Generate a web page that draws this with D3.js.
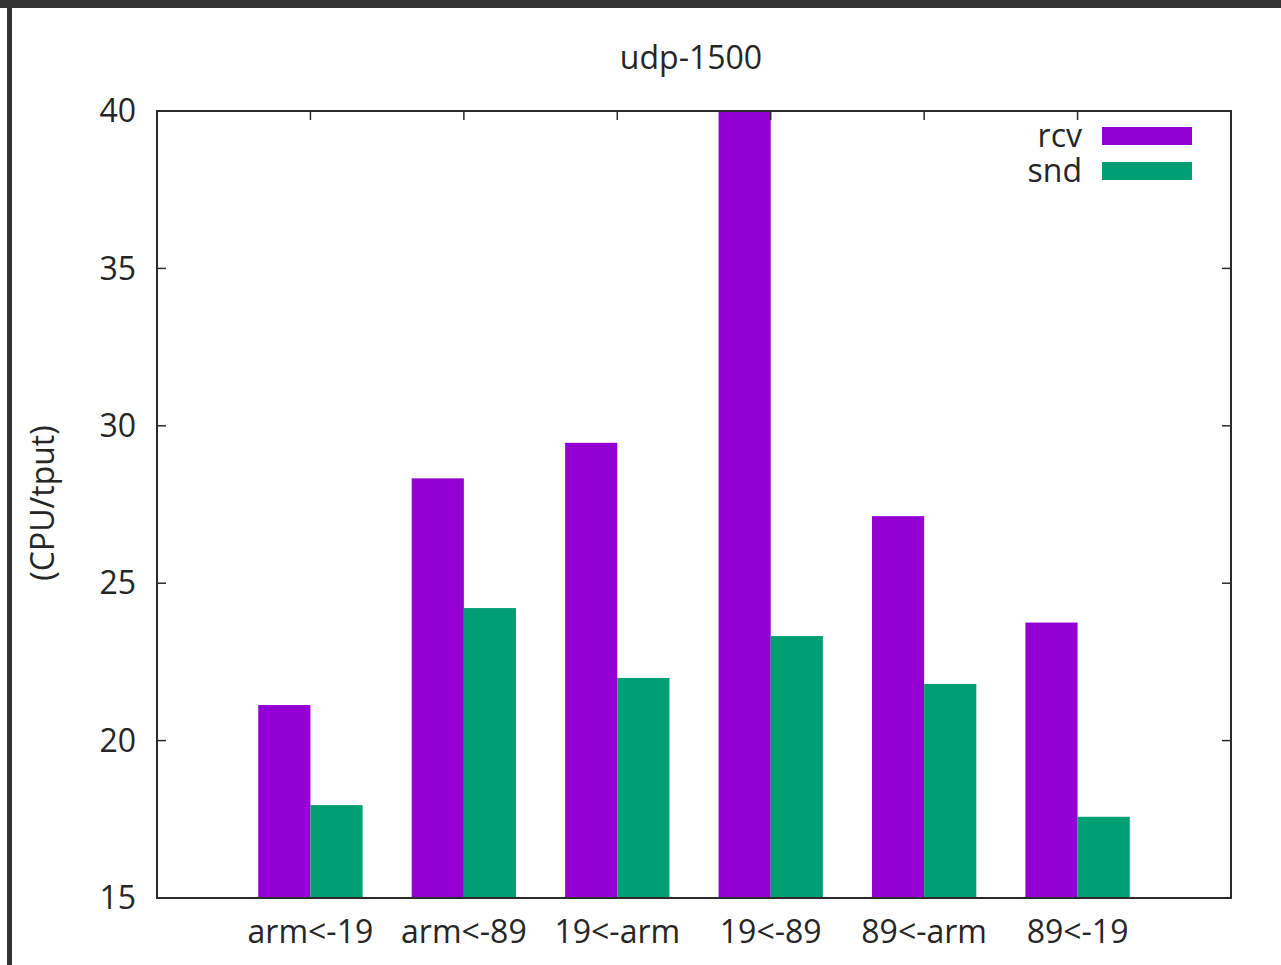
<!DOCTYPE html>
<html>
<head>
<meta charset="utf-8">
<script src="https://cdn.jsdelivr.net/npm/d3@7"></script>
<style>
  html, body { margin: 0; padding: 0; background: #fff; }
  svg { display: block; }
  text { font-family: "Open Sans", "Noto Sans", sans-serif; fill: #262626; }
</style>
</head>
<body>
<script>
// Histogram data: CPU per throughput, udp-1500
const categories = ["arm<-19", "arm<-89", "19<-arm", "19<-89", "89<-arm", "89<-19"];
const rcvValues = [21.13, 28.33, 29.46, 42.5, 27.13, 23.75];
const sndValues = [17.95, 24.21, 21.99, 23.32, 21.80, 17.58];
const seriesNames = ["rcv", "snd"];
const seriesColors = ["#9400d3", "#009e73"];
const yTicks = [15, 20, 25, 30, 35, 40];
const chartTitle = "udp-1500";
const yLabel = "(CPU/tput)";

const W = 1281, H = 965;
const plot = { left: 157, right: 1231, top: 111, bottom: 898 };
const fontSize = 32;

const svg = d3.select("body").append("svg").attr("width", W).attr("height", H);

// window frame edges
svg.append("rect").attr("x", 0).attr("y", 0).attr("width", W).attr("height", 8).attr("fill", "#333333");
svg.append("rect").attr("x", 7).attr("y", 0).attr("width", 5).attr("height", H).attr("fill", "#333333");

const x = d3.scaleLinear().domain([-1, categories.length]).range([plot.left, plot.right]);
const y = d3.scaleLinear().domain([15, 40]).range([plot.bottom, plot.top]);
const barW = (x(1) - x(0)) * 0.34;

svg.append("clipPath").attr("id", "plotClip")
  .append("rect").attr("x", plot.left).attr("y", plot.top)
  .attr("width", plot.right - plot.left).attr("height", plot.bottom - plot.top);

const bars = svg.append("g").attr("clip-path", "url(#plotClip)");
const series = [rcvValues, sndValues];
series.forEach((vals, s) => {
  bars.selectAll(null).data(vals).enter().append("rect")
    .attr("x", (d, i) => x(i) + (s === 0 ? -barW : 0))
    .attr("y", d => y(d))
    .attr("width", barW)
    .attr("height", d => y(15) - y(d))
    .attr("fill", seriesColors[s]);
});

// axes with inward ticks, mirrored on the opposite sides
const tickLen = 9;
const axisColor = "#2b2b2b";
const axes = svg.append("g").attr("stroke", axisColor).attr("stroke-width", 1.5);
yTicks.forEach(t => {
  if (t === 15 || t === 40) return;
  axes.append("line").attr("x1", plot.left).attr("x2", plot.left + tickLen).attr("y1", y(t)).attr("y2", y(t));
  axes.append("line").attr("x1", plot.right).attr("x2", plot.right - tickLen).attr("y1", y(t)).attr("y2", y(t));
});
categories.forEach((c, i) => {
  axes.append("line").attr("x1", x(i)).attr("x2", x(i)).attr("y1", plot.top).attr("y2", plot.top + tickLen);
});
svg.append("rect").attr("x", plot.left).attr("y", plot.top)
  .attr("width", plot.right - plot.left).attr("height", plot.bottom - plot.top)
  .attr("fill", "none").attr("stroke", axisColor).attr("stroke-width", 2);

// tick labels
svg.append("g").selectAll("text").data(yTicks).enter().append("text")
  .attr("x", 136).attr("y", d => y(d)).attr("dy", "0.35em")
  .attr("text-anchor", "end").attr("font-size", fontSize).text(d => d);

svg.append("g").selectAll("text").data(categories).enter().append("text")
  .attr("x", (d, i) => x(i)).attr("y", 943)
  .attr("text-anchor", "middle").attr("font-size", fontSize).text(d => d);

// title and axis label
svg.append("text").attr("x", 691).attr("y", 69).attr("text-anchor", "middle")
  .attr("font-size", fontSize).text(chartTitle);
svg.append("text").attr("transform", "translate(54,503) rotate(-90)")
  .attr("text-anchor", "middle").attr("font-size", fontSize).text(yLabel);

// legend
const legend = svg.append("g");
seriesNames.forEach((name, s) => {
  const cy = 136 + s * 35;
  legend.append("text").attr("x", 1082).attr("y", cy).attr("dy", "0.35em")
    .attr("text-anchor", "end").attr("font-size", fontSize).text(name);
  legend.append("rect").attr("x", 1102).attr("y", cy - 9).attr("width", 90).attr("height", 18)
    .attr("fill", seriesColors[s]);
});
</script>
</body>
</html>
